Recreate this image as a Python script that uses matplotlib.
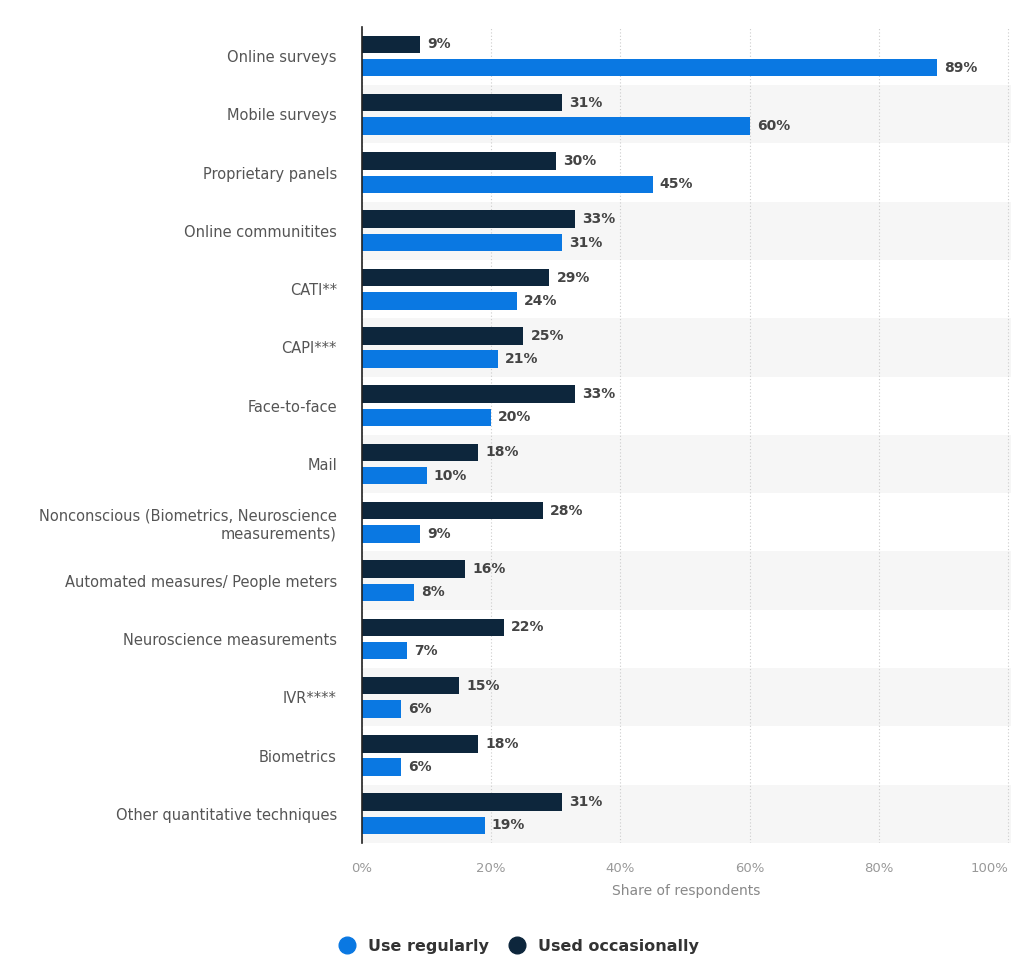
import matplotlib
matplotlib.use("Agg")
import matplotlib.pyplot as plt
from matplotlib.lines import Line2D
import numpy as np

categories = ["Online surveys", "Mobile surveys", "Proprietary panels", "Online communitites",
              "CATI**", "CAPI***", "Face-to-face", "Mail",
              "Nonconscious (Biometrics, Neuroscience\nmeasurements)",
              "Automated measures/ People meters", "Neuroscience measurements",
              "IVR****", "Biometrics", "Other quantitative techniques"]
used_occasionally = [9, 31, 30, 33, 29, 25, 33, 18, 28, 16, 22, 15, 18, 31]
use_regularly = [89, 60, 45, 31, 24, 21, 20, 10, 9, 8, 7, 6, 6, 19]
xticks = [0, 20, 40, 60, 80, 100]

c_reg = "#0a78e2"
c_occ = "#0d263c"

plt.rcParams['font.family'] = ['DejaVu Sans']
fig = plt.figure(figsize=(10.24, 9.59), dpi=100)
ax = fig.add_axes([0.3535, 0.121, 0.634, 0.851])

n = len(categories)
y = np.arange(n)
h = 0.3
off = 0.2

for i in range(n):
    if i % 2 == 1:
        ax.axhspan(i - 0.5, i + 0.5, color="#f6f6f6", zorder=0, lw=0)

ax.barh(y - off, used_occasionally, height=h, color=c_occ, zorder=3)
ax.barh(y + off, use_regularly, height=h, color=c_reg, zorder=3)

for i in range(n):
    ax.text(used_occasionally[i] + 1.1, y[i] - off, f"{used_occasionally[i]}%", va="center", ha="left",
            fontsize=10, fontweight="bold", color="#444444", zorder=4)
    ax.text(use_regularly[i] + 1.1, y[i] + off, f"{use_regularly[i]}%", va="center", ha="left",
            fontsize=10, fontweight="bold", color="#444444", zorder=4)

ax.set_ylim(n - 0.5, -0.5)
ax.set_xlim(0, 100.5)
ax.set_yticks(y)
ax.set_yticklabels(categories, fontsize=10.5, color="#555555", ha="right", multialignment="right")
ax.set_xticks(xticks)
ax.set_xticklabels([f"{t}%" for t in xticks], fontsize=9.5, color="#999999")
ax.get_xticklabels()[-1].set_horizontalalignment("right")
ax.tick_params(axis="both", length=0)
ax.tick_params(axis="y", pad=18)
ax.tick_params(axis="x", pad=14)
ax.set_xlabel("Share of respondents", fontsize=10, color="#888888", labelpad=6)

for s in ["top", "right", "bottom"]:
    ax.spines[s].set_visible(False)
ax.spines["left"].set_color("#222222")
ax.spines["left"].set_linewidth(1.2)
ax.spines["left"].set_zorder(5)

ax.xaxis.grid(True, linestyle=(0, (1, 2)), color="#cccccc", linewidth=0.8, zorder=1)
ax.set_axisbelow(True)

handles = [Line2D([], [], marker="o", linestyle="none", markersize=12, color=c_reg),
           Line2D([], [], marker="o", linestyle="none", markersize=12, color=c_occ)]
leg = fig.legend(handles, ["Use regularly", "Used occasionally"], loc="center",
                 bbox_to_anchor=(0.503, 0.0135), ncol=2, frameon=False,
                 prop={"size": 11.5, "weight": "bold"}, handletextpad=0.3, columnspacing=0.8)
for t in leg.get_texts():
    t.set_color("#333333")

fig.savefig("out.png", dpi=100, facecolor="white")
